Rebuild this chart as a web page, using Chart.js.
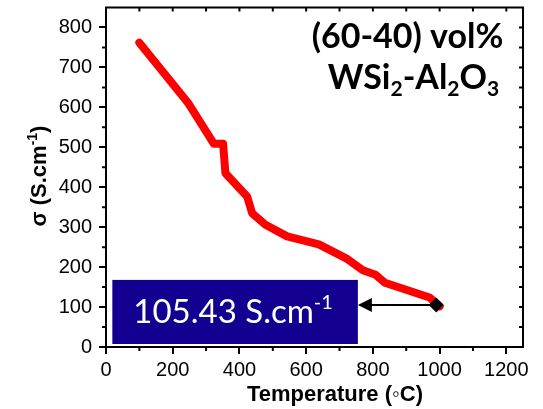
<!DOCTYPE html>
<html>
<head>
<meta charset="utf-8">
<script src="https://cdn.jsdelivr.net/npm/chart.js@4/dist/chart.umd.min.js"></script>
<style>
  html, body { margin: 0; padding: 0; background: #fff; }
  canvas { display: block; }
</style>
</head>
<body>
<canvas id="c" width="543" height="409"></canvas>
<script>
// Electrical conductivity of the (60-40) vol% WSi2-Al2O3 composite vs temperature
const temperatureC = [100, 248, 323, 351, 358, 423, 438, 478, 543, 638, 720, 770, 808, 836, 970, 1000];
const conductivity = [762, 609, 509, 509, 435, 377, 335, 306, 277, 257, 222, 192, 181, 161, 124, 102];

// highlighted reading at the end of the run
const markerTemp = [990];
const markerSigma = [105.43];

const xTicks = [0, 200, 400, 600, 800, 1000, 1200];
const xMinor = [100, 300, 500, 700, 900, 1100];
const yTicks = [0, 100, 200, 300, 400, 500, 600, 700, 800];
const yMinor = [50, 150, 250, 350, 450, 550, 650, 750];

// value-callout box extent in data units
const boxTemp = [19, 755];
const boxSigma = [7.5, 168];

const TICK_FONT = '"Liberation Sans", Arial, sans-serif';
const NOTE_FONT = 'Lato, "Open Sans", sans-serif';

// draws a run of text pieces (with raised/lowered small pieces); returns end x
function runText(ctx, parts, x, y) {
  let cx = x;
  parts.forEach(p => {
    ctx.font = p.font;
    ctx.fillText(p.text, cx, y + (p.dy || 0));
    cx += ctx.measureText(p.text).width;
  });
  return cx;
}
function runWidth(ctx, parts) {
  let w = 0;
  parts.forEach(p => { ctx.font = p.font; w += ctx.measureText(p.text).width; });
  return w;
}

const decorations = {
  id: 'decorations',
  beforeDatasetsDraw(chart) {
    const { ctx, scales: { x, y } } = chart;
    const x0 = x.getPixelForValue(boxTemp[0]), x1 = x.getPixelForValue(boxTemp[1]);
    const y0 = y.getPixelForValue(boxSigma[1]), y1 = y.getPixelForValue(boxSigma[0]);
    ctx.save();
    ctx.fillStyle = '#130090';
    ctx.fillRect(x0, y0, x1 - x0, y1 - y0);
    ctx.fillStyle = '#ffffff';
    ctx.textBaseline = 'alphabetic';
    ctx.textAlign = 'left';
    const main = '400 33px ' + NOTE_FONT, sup = '400 20px ' + NOTE_FONT;
    runText(ctx, [
      { text: '105.43 S.cm', font: main },
      { text: '-1', font: sup, dy: -14 }
    ], x0 + 21, y1 - 21);
    ctx.restore();
  },
  afterDraw(chart) {
    const { ctx, chartArea: a, scales: { x, y } } = chart;
    ctx.save();
    ctx.strokeStyle = '#000';
    ctx.lineWidth = 2;
    ctx.beginPath();
    // minor ticks outside on bottom and left
    xMinor.forEach(v => { const p = x.getPixelForValue(v); ctx.moveTo(p, a.bottom); ctx.lineTo(p, a.bottom + 4); });
    yMinor.forEach(v => { const p = y.getPixelForValue(v); ctx.moveTo(a.left, p); ctx.lineTo(a.left - 4, p); });
    // mirrored inward ticks on top and right
    xTicks.concat(xMinor).forEach(v => { const p = x.getPixelForValue(v); ctx.moveTo(p, a.top); ctx.lineTo(p, a.top + 4); });
    yTicks.concat(yMinor).forEach(v => { const p = y.getPixelForValue(v); ctx.moveTo(a.right, p); ctx.lineTo(a.right - 4, p); });
    ctx.stroke();
    // frame top and right
    ctx.beginPath();
    ctx.moveTo(a.left - 1, a.top);
    ctx.lineTo(a.right, a.top);
    ctx.lineTo(a.right, a.bottom + 1);
    ctx.stroke();

    // arrow from the marker to the callout box
    const tipX = x.getPixelForValue(boxTemp[1]);
    const tailX = x.getPixelForValue(markerTemp[0]);
    const ay = y.getPixelForValue(markerSigma[0]);
    ctx.beginPath();
    ctx.moveTo(tailX, ay);
    ctx.lineTo(tipX + 12, ay);
    ctx.stroke();
    ctx.fillStyle = '#000';
    ctx.beginPath();
    ctx.moveTo(tipX, ay);
    ctx.lineTo(tipX + 14, ay - 7);
    ctx.lineTo(tipX + 14, ay + 7);
    ctx.closePath();
    ctx.fill();

    // composition note
    ctx.textBaseline = 'alphabetic';
    ctx.textAlign = 'left';
    const big = '700 34px ' + NOTE_FONT, sub = '700 21px ' + NOTE_FONT;
    const line1 = [{ text: '(60-40) vol%', font: big }];
    const line2 = [
      { text: 'WSi', font: big }, { text: '2', font: sub, dy: 7 },
      { text: '-Al', font: big }, { text: '2', font: sub, dy: 7 },
      { text: 'O', font: big }, { text: '3', font: sub, dy: 7 }
    ];
    runText(ctx, line1, 407.5 - runWidth(ctx, line1) / 2, 48);
    runText(ctx, line2, 413.5 - runWidth(ctx, line2) / 2, 89);

    // axis titles
    ctx.font = '700 22px ' + TICK_FONT;
    ctx.textAlign = 'center';
    ctx.fillText('Temperature (\u25E6C)', 335, 401);

    const yt = [
      { text: '\u03C3 (S.cm', font: '700 22px ' + TICK_FONT },
      { text: '-1', font: '700 14px ' + TICK_FONT, dy: -9 },
      { text: ')', font: '700 22px ' + TICK_FONT }
    ];
    ctx.textAlign = 'left';
    ctx.translate(46, 176);
    ctx.rotate(-Math.PI / 2);
    runText(ctx, yt, -runWidth(ctx, yt) / 2, 0);
    ctx.restore();
  }
};

const tickStyle = { color: '#000', font: { family: TICK_FONT, size: 20 }, maxRotation: 0, callback: v => String(v) };

new Chart(document.getElementById('c'), {
  type: 'line',
  data: {
    datasets: [
      {
        data: temperatureC.map((t, i) => ({ x: t, y: conductivity[i] })),
        borderColor: '#ff0000',
        borderWidth: 8,
        borderCapStyle: 'round',
        borderJoinStyle: 'round',
        pointRadius: 0,
        tension: 0,
        fill: false,
        order: 1
      },
      {
        type: 'scatter',
        data: markerTemp.map((t, i) => ({ x: t, y: markerSigma[i] })),
        pointStyle: 'rectRot',
        pointRadius: 7.5,
        backgroundColor: '#000',
        borderColor: '#000',
        borderWidth: 0,
        order: 0
      }
    ]
  },
  options: {
    responsive: false,
    animation: false,
    devicePixelRatio: 1,
    layout: { padding: { top: 5, right: 20, left: 0, bottom: 0 } },
    plugins: { legend: { display: false }, tooltip: { enabled: false } },
    scales: {
      x: {
        type: 'linear', min: 0, max: 1250,
        afterBuildTicks: s => { s.ticks = xTicks.map(v => ({ value: v })); },
        afterFit: s => { s.height = 62; s.paddingLeft = 0; s.paddingRight = 0; },
        grid: { drawOnChartArea: false, tickLength: 7, color: '#000', lineWidth: 2 },
        border: { color: '#000', width: 2 },
        ticks: Object.assign({ padding: 4 }, tickStyle)
      },
      y: {
        type: 'linear', min: 0, max: 850,
        afterBuildTicks: s => { s.ticks = yTicks.map(v => ({ value: v })); },
        afterFit: s => { s.width = 106; s.paddingTop = 0; s.paddingBottom = 0; },
        grid: { drawOnChartArea: false, tickLength: 7, color: '#000', lineWidth: 2 },
        border: { color: '#000', width: 2 },
        ticks: Object.assign({ padding: 7 }, tickStyle)
      }
    }
  },
  plugins: [decorations]
});
</script>
</body>
</html>
